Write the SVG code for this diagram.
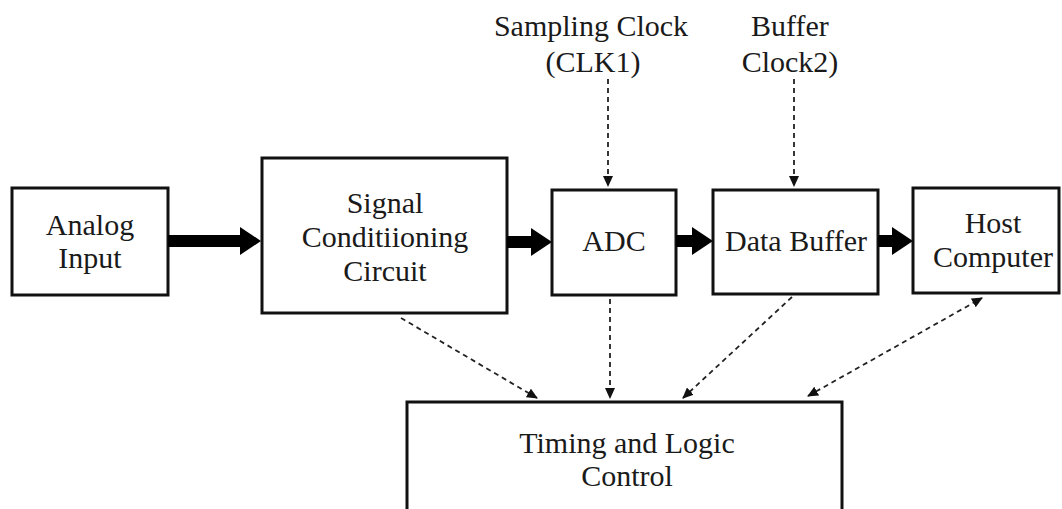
<svg xmlns="http://www.w3.org/2000/svg" width="1062" height="509" viewBox="0 0 1062 509">
  <style>
    .box { fill: #ffffff; stroke: #111111; stroke-width: 3; }
    .lbl { font-family: "Liberation Serif", "Times New Roman", serif; font-size: 30px; fill: #1a1a1a; text-anchor: middle; }
    .bus { stroke: #000000; stroke-width: 12; fill: none; marker-end: url(#bigHead); }
    .ctl { stroke: #222222; stroke-width: 1.8; stroke-dasharray: 5 4; fill: none; marker-end: url(#smallHead); }
  </style>
  <defs>
    <marker id="bigHead" markerUnits="userSpaceOnUse" markerWidth="21" markerHeight="28" refX="0" refY="14" orient="auto">
      <path d="M0,0 L21,14 L0,28 Z" fill="#000000"/>
    </marker>
    <marker id="smallHead" markerUnits="userSpaceOnUse" markerWidth="11" markerHeight="10" refX="10" refY="5" orient="auto-start-reverse">
      <path d="M0,0 L11,5 L0,10 Z" fill="#111111"/>
    </marker>
  </defs>

  <rect width="1062" height="509" fill="#ffffff"/>

  <!-- clock source labels -->
  <g id="sampling-clock">
    <text class="lbl" x="591" y="36">Sampling Clock</text>
    <text class="lbl" x="593" y="72">(CLK1)</text>
  </g>
  <g id="buffer-clock">
    <text class="lbl" x="790" y="36">Buffer</text>
    <text class="lbl" x="790" y="72">Clock2)</text>
  </g>

  <!-- processing chain -->
  <g id="analog-input">
    <rect class="box" x="12" y="188" width="156" height="107"/>
    <text class="lbl" x="90" y="235">Analog</text>
    <text class="lbl" x="90" y="268">Input</text>
  </g>
  <g id="signal-conditioning">
    <rect class="box" x="262" y="158" width="245" height="155"/>
    <text class="lbl" x="385" y="213">Signal</text>
    <text class="lbl" x="385" y="247">Conditiioning</text>
    <text class="lbl" x="385" y="281">Circuit</text>
  </g>
  <g id="adc">
    <rect class="box" x="552" y="190" width="124" height="105"/>
    <text class="lbl" x="614" y="251">ADC</text>
  </g>
  <g id="data-buffer">
    <rect class="box" x="713" y="190" width="165" height="104"/>
    <text class="lbl" x="796" y="251">Data Buffer</text>
  </g>
  <g id="host-computer">
    <rect class="box" x="913" y="188" width="146" height="105"/>
    <text class="lbl" x="993" y="233">Host</text>
    <text class="lbl" x="993" y="267">Computer</text>
  </g>
  <g id="timing-logic">
    <rect class="box" x="407" y="402" width="435" height="120"/>
    <text class="lbl" x="627" y="453">Timing and Logic</text>
    <text class="lbl" x="627" y="486">Control</text>
  </g>

  <g id="connectors">
    <!-- data path -->
    <line class="bus" x1="168" y1="241" x2="240" y2="241"/>
    <line class="bus" x1="507" y1="242" x2="531" y2="242"/>
    <line class="bus" x1="676" y1="241" x2="692" y2="241"/>
    <line class="bus" x1="878" y1="241" x2="892" y2="241"/>
    <!-- clock inputs -->
    <line class="ctl" x1="608" y1="79" x2="608" y2="186"/>
    <line class="ctl" x1="794" y1="79" x2="794" y2="186"/>
    <!-- control lines to timing block -->
    <line class="ctl" x1="401" y1="318" x2="537" y2="398"/>
    <line class="ctl" x1="610" y1="299" x2="610" y2="398"/>
    <line class="ctl" x1="792" y1="297" x2="683" y2="398"/>
    <line class="ctl" x1="808" y1="396" x2="982" y2="298" style="marker-start: url(#smallHead);"/>
  </g>
</svg>
